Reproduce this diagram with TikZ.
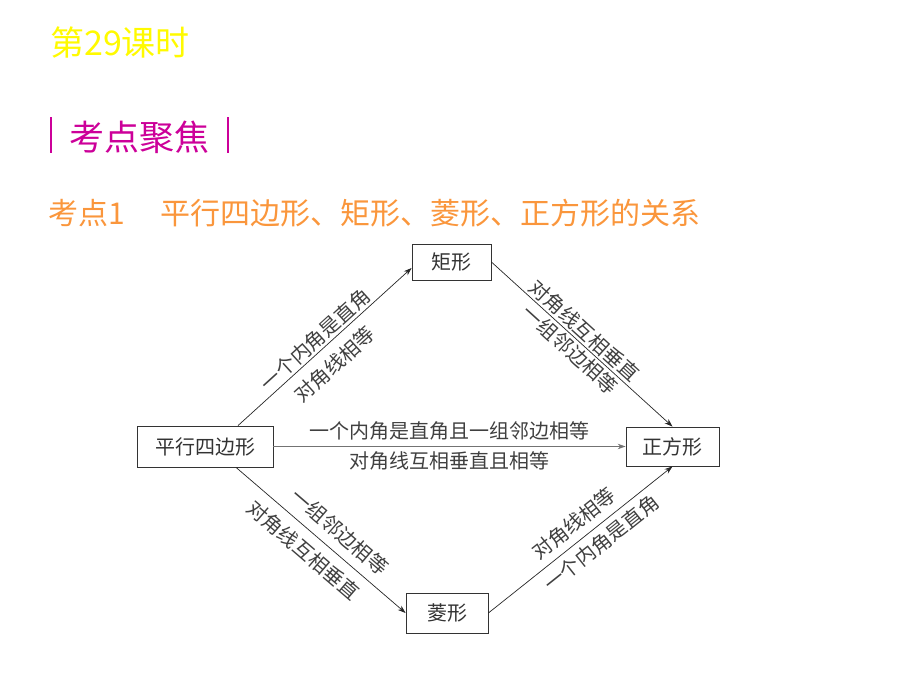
\documentclass[tikz,border=0pt]{standalone}
\usepackage{fontspec}
\setmainfont{Noto Sans CJK SC}
\usetikzlibrary{positioning}
\usetikzlibrary{arrows.meta}

\definecolor{titleyellow}{RGB}{255,250,0}
\definecolor{focusmagenta}{RGB}{204,0,153}
\definecolor{pointorange}{RGB}{250,150,60}

\tikzset{
  shapebox/.style={draw=black!80, line width=0.8bp, inner sep=0pt,
    font=\fontsize{20bp}{24bp}\selectfont, text=black!80},
  rel/.style={draw=black!85, line width=0.7bp, -{Stealth[length=8bp,width=5.5bp]}},
  cond/.style={font=\fontsize{20bp}{24bp}\selectfont, text=black!75, sloped, inner sep=2bp},
}

\begin{document}
\begin{tikzpicture}[x=1bp, y=1bp, on grid]
        \useasboundingbox (0,0) rectangle (920,690);

        % headings
        \node[anchor=west, inner sep=0pt, text=titleyellow, font=\fontsize{34bp}{36bp}\selectfont] (title) at (50,647) {第29课时};
        \node[anchor=west, inner sep=0pt, text=focusmagenta, font=\fontsize{35bp}{38bp}\selectfont] (focus) at (69,553) {考点聚焦};
        \draw[focusmagenta, line width=2bp] (51,537) -- (51,573);
        \draw[focusmagenta, line width=2bp] (228,537) -- (228,573);
        \node[anchor=west, inner sep=0pt, text=pointorange, font=\fontsize{30bp}{34bp}\selectfont] (point) at (48,477) {考点1\hspace{36bp}平行四边形、矩形、菱形、正方形的关系};

        % shapes
        \node[shapebox, minimum width=136bp, minimum height=41bp] (pxsbx) at (205,243.5) {平行四边形};
        \node[shapebox, minimum width=79bp, minimum height=36bp, above right=184.5bp and 246.5bp of pxsbx] (jx) {矩形};
        \node[shapebox, minimum width=93bp, minimum height=39bp, right=467.5bp of pxsbx] (zfx) {正方形};
        \node[shapebox, minimum width=82bp, minimum height=40bp, below right=166.5bp and 242bp of pxsbx] (lx) {菱形};

        % relations
        \draw[rel] ([xshift=33bp]pxsbx.north) -- ([yshift=-6bp]jx.west)
          node[cond, pos=0.49, above] {一个内角是直角}
          node[cond, pos=0.48, below=8bp] {对角线相等};
        \draw[rel] (jx.east) -- (zfx.north)
          node[cond, pos=0.47, above] {对角线互相垂直}
          node[cond, pos=0.48, below] {一组邻边相等};
        \draw[rel, draw=black!55] (pxsbx.east) -- (zfx.west)
          node[cond, midway, above=4bp] {一个内角是直角且一组邻边相等}
          node[cond, midway, below=3bp] {对角线互相垂直且相等};
        \draw[rel] ([xshift=31bp]pxsbx.south) -- (lx.west)
          node[cond, pos=0.54, above=7bp] {一组邻边相等}
          node[cond, pos=0.47, below=7bp] {对角线互相垂直};
        \draw[rel] (lx.east) -- (zfx.south)
          node[cond, pos=0.52, above=5bp] {对角线相等}
          node[cond, pos=0.56, below=4bp] {一个内角是直角};
\end{tikzpicture}
\end{document}
